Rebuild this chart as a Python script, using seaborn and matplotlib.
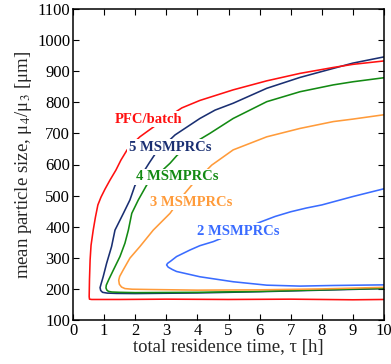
import matplotlib
matplotlib.use("Agg")
import matplotlib.pyplot as plt
import seaborn as sns
import pandas as pd

# Attainable-region boundaries: each curve runs along the upper branch from
# the longest residence time down to its tip, then back out along the lower branch.
pfc_tau = [10.0, 9.0, 8.37, 7.3, 6.23, 5.15, 4.08, 3.5, 2.9, 2.37, 2.15, 1.95, 1.74, 1.54,
           1.38, 1.19, 1.03, 0.90, 0.80, 0.72, 0.65, 0.58, 0.55, 0.53, 0.52, 0.53, 0.6,
           1.5, 3.0, 5.0, 7.0, 9.0, 10.0]
pfc_size = [933, 922, 912, 893, 869, 840, 806, 782, 743, 705, 689, 670, 647, 614,
            582, 550, 521, 495, 470, 430, 389, 340, 293, 230, 175, 167, 166,
            166, 167, 166, 167, 165, 166]

m5_tau = [10.0, 9.0, 8.37, 7.3, 6.23, 5.15, 4.57, 4.08, 3.28, 2.65, 2.45, 1.99, 1.83, 1.62,
          1.35, 1.24, 1.08, 0.97, 0.90, 0.87, 0.89, 0.95, 1.1, 1.4, 2.0, 4.0, 6.0, 8.0, 10.0]
m5_size = [946, 926, 909, 880, 845, 797, 775, 748, 695, 635, 605, 532, 486, 443,
           389, 336, 282, 239, 215, 204, 195, 189, 186.5, 185.5, 185, 187, 191, 196, 201]

m4_tau = [10.0, 9.0, 8.37, 7.3, 6.23, 5.15, 4.4, 3.9, 3.35, 3.12, 2.7, 2.37, 2.10, 1.89,
          1.78, 1.67, 1.51, 1.30, 1.15, 1.07, 1.06, 1.09, 1.14, 1.25, 1.5, 2.0, 4.0, 6.0,
          8.0, 10.0]
m4_size = [879, 866, 856, 834, 802, 748, 700, 670, 630, 604, 565, 534, 486, 443,
           389, 347, 304, 261, 230, 212, 203, 196, 192, 190, 189, 188, 189, 192, 197, 202]

m3_tau = [10.0, 9.0, 8.37, 7.3, 6.23, 5.15, 4.46, 3.82, 3.50, 3.12, 2.58, 2.15, 1.83, 1.62,
          1.5, 1.47, 1.49, 1.56, 1.67, 1.9, 2.5, 4.0, 6.0, 8.0, 10.0]
m3_size = [760, 746, 738, 716, 689, 647, 598, 534, 496, 443, 389, 336, 299, 262,
           240, 228, 215, 206, 201, 199, 198, 196, 197, 200, 205]

m2_tau = [10.0, 9.0, 8.0, 7.5, 7.0, 6.5, 6.0, 5.5, 5.0, 4.51, 4.08, 3.76, 3.33, 3.15,
          3.04, 3.01, 3.06, 3.2, 3.33, 4.08, 5.15, 6.23, 7.3, 8.37, 10.0]
m2_size = [522, 497, 470, 460, 448, 433, 414, 393, 372, 352, 339, 325, 304, 290,
           282, 277, 270, 262, 256, 239, 223, 212, 209, 211, 213]

series_names = ["5 MSMPRCs", "4 MSMPRCs", "3 MSMPRCs", "2 MSMPRCs", "PFC/batch"]
series_tau = [m5_tau, m4_tau, m3_tau, m2_tau, pfc_tau]
series_size = [m5_size, m4_size, m3_size, m2_size, pfc_size]
series_colors = ["#1a2f72", "#138a13", "#ff9b3a", "#3a6cff", "#ff1010"]

# label anchor positions (data coordinates)
label_tau = [3.12, 3.34, 3.81, 5.31, 2.43]
label_size = [655, 560, 479, 386, 746]

x_ticks = list(range(0, 11))
y_ticks = list(range(100, 1101, 100))

sns.set_theme(style="ticks")
plt.rcParams["font.family"] = ["Liberation Serif", "DejaVu Serif"]
plt.rcParams["mathtext.fontset"] = "stix"

fig = plt.figure(figsize=(3.91, 3.64), dpi=100)
ax = fig.add_axes([73 / 391, 1 - 320 / 364, 311 / 391, 311 / 364])

for name, t, s, c in zip(series_names, series_tau, series_size, series_colors):
    df = pd.DataFrame({"tau": t, "size": s})
    sns.lineplot(data=df, x="tau", y="size", sort=False, estimator=None,
                 color=c, linewidth=1.15, ax=ax)
for ln in ax.get_lines():
    ln.set_solid_joinstyle("round")

for name, lx, ly, c in zip(series_names, label_tau, label_size, series_colors):
    ax.text(lx, ly, name, color=c, fontsize=10.5, fontweight="bold",
            ha="center", va="center", zorder=5,
            bbox=dict(facecolor="white", edgecolor="none", pad=1.0))

ax.set_xlim(0, 10)
ax.set_ylim(100, 1100)
ax.set_xticks(x_ticks)
ax.set_yticks(y_ticks)
ax.tick_params(direction="in", top=True, right=True, length=4, width=0.8,
               labelsize=12, colors="black", pad=2)
for sp in ax.spines.values():
    sp.set_linewidth(1.1)
    sp.set_color("black")

ax.set_xlabel("total residence time, τ [h]", fontsize=13.5, labelpad=0)
ax.set_ylabel("mean particle size, μ$_4$/μ$_3$ [μm]", fontsize=13.5, labelpad=2)

fig.savefig("out.png", dpi=100)
